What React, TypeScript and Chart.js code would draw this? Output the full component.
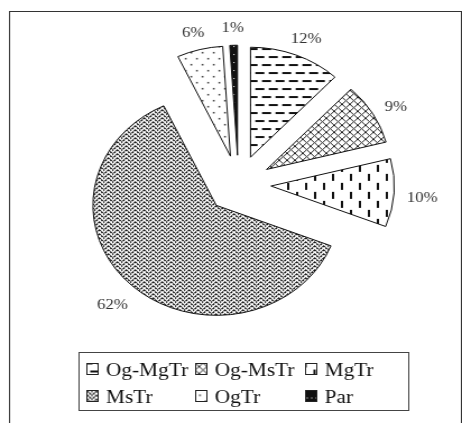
import { useEffect, useRef } from "react";
import { Chart, registerables } from "chart.js";

Chart.register(...registerables);

// ---- data ----
const categories = ["Og-MgTr", "Og-MsTr", "MgTr", "MsTr", "OgTr", "Par"];
const shares = [12, 9, 10, 62, 6, 1];

// ---- layout constants ----
const CANVAS_W = 412;
const CANVAS_H = 423;
const CSS_W = 462;
const EXPLODE = 29;
const RADIUS = 110;
const LABEL_GAP = 21;
const LABEL_DY = 4;
const FONT = '"Liberation Serif", "Times New Roman", serif';

function makeTile(w: number, h: number, paint: (g: CanvasRenderingContext2D) => void) {
  const c = document.createElement("canvas");
  c.width = w;
  c.height = h;
  const g = c.getContext("2d") as CanvasRenderingContext2D;
  g.fillStyle = "#fff";
  g.fillRect(0, 0, w, h);
  paint(g);
  return c;
}

function buildTiles() {
  return [
    // Og-MgTr: horizontal dashes
    makeTile(12, 16, (g) => {
      g.fillStyle = "#111";
      g.fillRect(1, 3, 8, 2);
      g.fillRect(7, 11, 5, 2);
      g.fillRect(0, 11, 3, 2);
    }),
    // Og-MsTr: diagonal crosshatch
    makeTile(7, 7, (g) => {
      g.fillStyle = "#222";
      for (let i = 0; i < 7; i++) {
        g.fillRect(i, i, 1, 1);
        g.fillRect(6 - i, i, 1, 1);
      }
    }),
    // MgTr: vertical dashes
    makeTile(16, 18, (g) => {
      g.fillStyle = "#111";
      g.fillRect(3, 1, 2, 7);
      g.fillRect(11, 10, 2, 7);
    }),
    // MsTr: zigzag weave
    makeTile(8, 8, (g) => {
      g.fillStyle = "#111";
      for (let x = 0; x < 8; x++) {
        const y = x <= 4 ? 4 - x : x - 4;
        g.fillRect(x, y, 1, 1);
        g.fillRect(x, (y + 4) % 8, 1, 1);
        if (x % 2 === 0) {
          g.fillRect(x, (y + 1) % 8, 1, 1);
          g.fillRect(x, (y + 5) % 8, 1, 1);
        }
      }
    }),
    // OgTr: sparse dots
    makeTile(10, 12, (g) => {
      g.fillStyle = "#333";
      g.fillRect(2, 2, 1.5, 1.5);
      g.fillRect(7, 8, 1.5, 1.5);
    }),
    // Par: black with white dots
    makeTile(4, 8, (g) => {
      g.fillStyle = "#111";
      g.fillRect(0, 0, 4, 8);
      g.fillStyle = "#fff";
      g.fillRect(1, 3, 1, 1);
    }),
  ];
}

const framePlugin = {
  id: "frame",
  beforeDraw(chart: any) {
    const ctx = chart.ctx as CanvasRenderingContext2D;
    ctx.save();
    ctx.fillStyle = "#fff";
    ctx.fillRect(0, 0, chart.width, chart.height);
    ctx.strokeStyle = "#333";
    ctx.lineWidth = 1;
    ctx.strokeRect(8.5, 11.5, 403, 440);
    ctx.restore();
  },
};

const explodePlugin = {
  id: "explode",
  beforeDatasetDraw(chart: any, args: any) {
    const ctx = chart.ctx as CanvasRenderingContext2D;
    args.meta.data.forEach((arc: any) => {
      const mid = (arc.startAngle + arc.endAngle) / 2;
      ctx.save();
      ctx.translate(Math.cos(mid) * EXPLODE, Math.sin(mid) * EXPLODE);
      arc.draw(ctx, chart.chartArea);
      ctx.restore();
    });
    return false;
  },
};

const labelPlugin = {
  id: "pctLabels",
  afterDatasetsDraw(chart: any) {
    const ctx = chart.ctx as CanvasRenderingContext2D;
    const meta = chart.getDatasetMeta(0);
    ctx.save();
    ctx.font = `15px ${FONT}`;
    ctx.fillStyle = "#333";
    ctx.textAlign = "center";
    ctx.textBaseline = "middle";
    meta.data.forEach((arc: any, i: number) => {
      const mid = (arc.startAngle + arc.endAngle) / 2;
      const r = EXPLODE + arc.outerRadius + LABEL_GAP;
      const txt = `${chart.data.datasets[0].data[i]}%`;
      const w = ctx.measureText(txt).width;
      const x = arc.x + Math.cos(mid) * r + Math.cos(mid) * w * 0.15;
      const y = arc.y + Math.sin(mid) * r + LABEL_DY;
      ctx.fillText(txt, x, y);
    });
    ctx.restore();
  },
};

const legendPlugin = {
  id: "gridLegend",
  afterDraw(chart: any) {
    const ctx = chart.ctx as CanvasRenderingContext2D;
    const box = { x: 70.5, y: 352.5, w: 294, h: 58 };
    const colX = [6.5, 103.5, 201.5];
    const iconTop = [10.5, 37.5];
    const baseline = [23.5, 50.5];
    const labels: string[] = chart.data.labels;
    const fills = chart.data.datasets[0].backgroundColor;
    ctx.save();
    ctx.strokeStyle = "#444";
    ctx.lineWidth = 1;
    ctx.strokeRect(box.x, box.y, box.w, box.h);
    ctx.font = `19px ${FONT}`;
    ctx.textBaseline = "alphabetic";
    ctx.textAlign = "left";
    labels.forEach((lab, i) => {
      const col = i % 3;
      const row = Math.floor(i / 3);
      const ix = Math.round(box.x + colX[col]) + 0.5;
      const iy = Math.round(box.y + iconTop[row]) + 0.5;
      ctx.save();
      ctx.translate(ix - 4, iy - 4);
      ctx.fillStyle = fills[i];
      ctx.fillRect(4, 4, 10, 11);
      ctx.restore();
      ctx.strokeStyle = "#222";
      ctx.strokeRect(ix, iy, 10, 11);
      ctx.fillStyle = "#111";
      ctx.fillText(lab, box.x + colX[col] + 17.5, box.y + baseline[row]);
    });
    ctx.restore();
  },
};

export default function App() {
  const ref = useRef<HTMLCanvasElement | null>(null);

  useEffect(() => {
    const canvas = ref.current;
    if (!canvas) return;
    const ctx = canvas.getContext("2d") as CanvasRenderingContext2D;
    const patterns = buildTiles().map((t) => ctx.createPattern(t, "repeat"));
    const chart = new Chart(canvas, {
      type: "pie",
      data: {
        labels: categories,
        datasets: [
          {
            data: shares,
            backgroundColor: patterns as any,
            borderColor: "#111",
            borderWidth: 1,
            offset: 0,
            radius: RADIUS,
          } as any,
        ],
      },
      options: {
        responsive: false,
        devicePixelRatio: 1,
        animation: false,
        events: [],
        layout: { padding: { left: 13.4, right: 0, top: 0, bottom: 54.6 } },
        plugins: {
          legend: { display: false },
          tooltip: { enabled: false },
        },
      } as any,
      plugins: [framePlugin, explodePlugin, labelPlugin, legendPlugin],
    });
    return () => chart.destroy();
  }, []);

  return (
    <div style={{ position: "fixed", left: 0, top: 0, width: CSS_W, height: CANVAS_H, overflow: "hidden", background: "#fff" }}>
      <canvas ref={ref} width={CANVAS_W} height={CANVAS_H} style={{ width: CSS_W, height: CANVAS_H, display: "block" }} />
    </div>
  );
}
